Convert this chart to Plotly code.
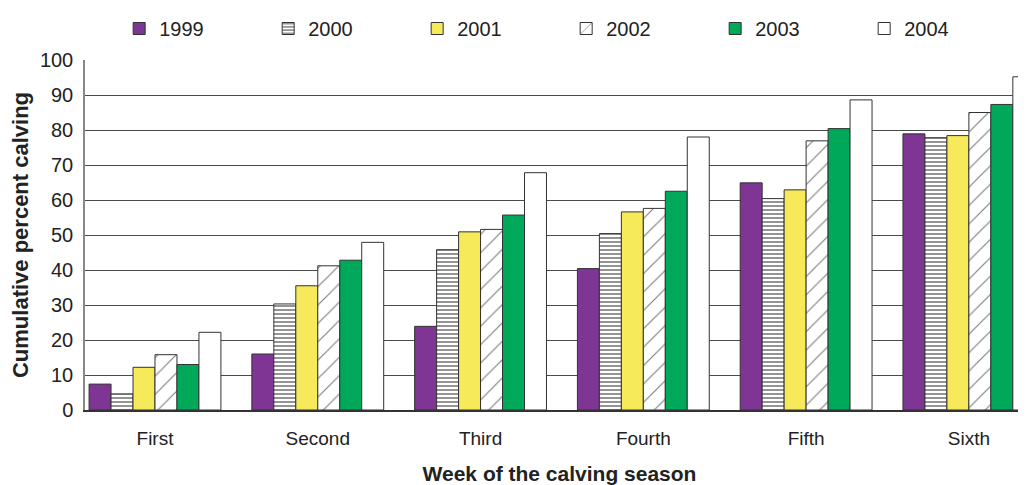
import plotly.graph_objects as go

weeks = ["First", "Second", "Third", "Fourth", "Fifth", "Sixth"]
years = ["1999", "2000", "2001", "2002", "2003", "2004"]

v1999 = [7.4, 16.0, 23.9, 40.4, 64.9, 78.9]
v2000 = [4.6, 30.3, 45.8, 50.4, 60.4, 77.8]
v2001 = [12.2, 35.5, 50.9, 56.6, 62.9, 78.4]
v2002 = [15.8, 41.2, 51.6, 57.6, 76.9, 85.0]
v2003 = [13.0, 42.8, 55.7, 62.5, 80.4, 87.3]
v2004 = [22.2, 47.9, 67.8, 78.0, 88.6, 95.2]

series = [v1999, v2000, v2001, v2002, v2003, v2004]

y_ticks = [0, 10, 20, 30, 40, 50, 60, 70, 80, 90, 100]

colors = ["#7f3594", "white", "#f6ea5b", "white", "#00a85a", "white"]
patterns = [
    dict(shape=""),
    dict(shape="-", fgcolor="#111", bgcolor="white", size=4, solidity=0.45),
    dict(shape=""),
    dict(shape="/", fgcolor="#000", bgcolor="white", size=13, solidity=0.09),
    dict(shape=""),
    dict(shape=""),
]

FONT = "Liberation Sans, Arial, Helvetica, sans-serif"

fig = go.Figure()
for name, vals, col, pat in zip(years, series, colors, patterns):
    fig.add_trace(go.Bar(
        x=weeks, y=vals, name=name,
        marker=dict(color=col, pattern=pat, line=dict(color="#333", width=1)),
    ))

fig.update_layout(
    width=1026, height=485,
    margin=dict(l=77, r=0, t=52, b=83, autoexpand=False),
    paper_bgcolor="white", plot_bgcolor="white",
    barmode="group", bargap=0.19, bargroupgap=0,
    font=dict(family=FONT, color="#222"),
    showlegend=True,
    legend=dict(
        orientation="h", x=0.036, xanchor="left", y=1.09, yanchor="middle",
        font=dict(size=20, family=FONT, color="#222"),
        entrywidth=104, entrywidthmode="pixels",
        traceorder="normal",
    ),
    xaxis=dict(
        type="category", range=[-0.43, 5.40], automargin=False,
        showline=True, linecolor="#333", linewidth=1.5,
        showgrid=False, ticks="", ticklabelstandoff=10,
        tickfont=dict(size=19, family=FONT, color="#222"),
        title=dict(text="<b>Week of the calving season</b>",
                   font=dict(size=21, family=FONT, color="#222"), standoff=19),
    ),
    yaxis=dict(
        range=[0, 100], tickvals=y_ticks, automargin=False,
        showline=True, linecolor="#888", linewidth=1.5,
        showgrid=True, gridcolor="#4a4a4a", gridwidth=1,
        zeroline=False, ticks="", ticklabelstandoff=6,
        tickfont=dict(size=20, family=FONT, color="#222"),
        title=dict(text="<b>Cumulative percent calving</b>",
                   font=dict(size=22, family=FONT, color="#222"), standoff=5),
    ),
)

fig.write_html("out.html")
